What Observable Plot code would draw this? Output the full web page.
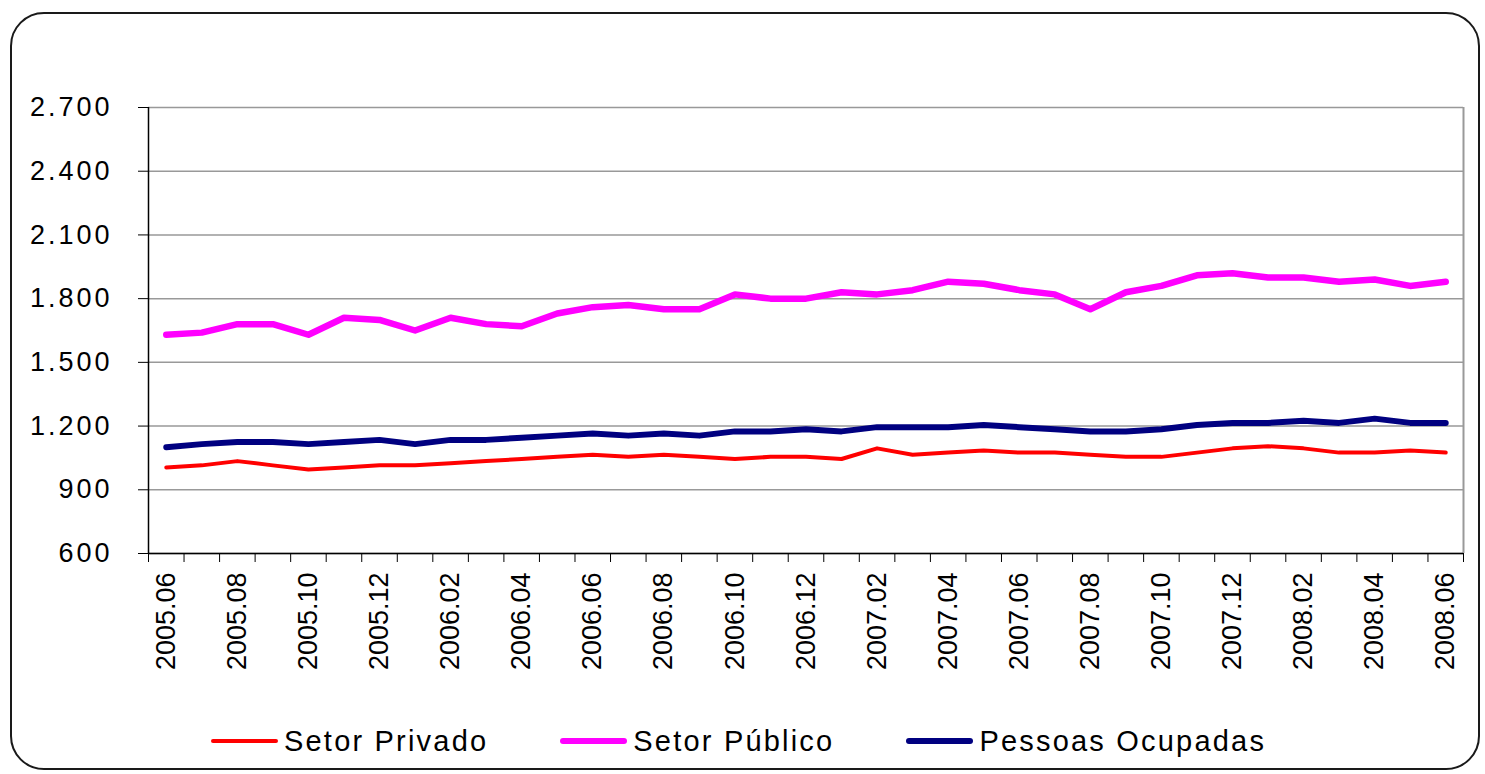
<!DOCTYPE html>
<html>
<head>
<meta charset="utf-8">
<script src="https://cdn.jsdelivr.net/npm/d3@7"></script>
<script src="https://cdn.jsdelivr.net/npm/@observablehq/plot@0.6"></script>
<style>
  html, body { margin: 0; padding: 0; background: #fff; }
  body { width: 1485px; height: 774px; position: relative; overflow: hidden; font-family: "Liberation Sans", Arial, sans-serif; }
  #frame { position: absolute; left: 10px; top: 12px; width: 1466px; height: 754px; border: 2px solid #1a1a1a; border-radius: 34px; pointer-events: none; z-index: 5; }
  #chart svg { display: block; max-width: none; background: transparent; }
  #chart g[aria-label="y-axis tick label"] text { letter-spacing: 3px; }
  #legend { position: absolute; left: 0; top: 704px; width: 1485px; height: 74px; display: flex; align-items: center; padding-left: 211px; box-sizing: border-box; }
  .item { display: flex; align-items: center; margin-right: 72px; }
  .sw { width: 67px; margin-right: 6px; border-radius: 3px; }
  .lab { font-size: 29px; letter-spacing: 2.2px; color: #000; }
</style>
</head>
<body>
<div id="frame"></div>
<div id="chart"></div>
<div id="legend"></div>
<script>
const months = ["2005.06","2005.07","2005.08","2005.09","2005.10","2005.11","2005.12",
  "2006.01","2006.02","2006.03","2006.04","2006.05","2006.06","2006.07","2006.08","2006.09","2006.10","2006.11","2006.12",
  "2007.01","2007.02","2007.03","2007.04","2007.05","2007.06","2007.07","2007.08","2007.09","2007.10","2007.11","2007.12",
  "2008.01","2008.02","2008.03","2008.04","2008.05","2008.06"];
const setorPrivado = [1005,1015,1035,1015,995,1005,1015,1015,1025,1035,1045,1055,1065,1055,1065,1055,1045,1055,1055,1045,1095,1065,1075,1085,1075,1075,1065,1055,1055,1075,1095,1105,1095,1075,1075,1085,1075];
const setorPublico = [1630,1640,1680,1680,1630,1710,1700,1650,1710,1680,1670,1730,1760,1770,1750,1750,1820,1800,1800,1830,1820,1840,1880,1870,1840,1820,1750,1830,1860,1910,1920,1900,1900,1880,1890,1860,1880];
const pessoasOcupadas = [1100,1115,1125,1125,1115,1125,1135,1115,1135,1135,1145,1155,1165,1155,1165,1155,1175,1175,1185,1175,1195,1195,1195,1205,1195,1185,1175,1175,1185,1205,1215,1215,1225,1215,1235,1215,1215];
const yTicks = [600, 900, 1200, 1500, 1800, 2100, 2400, 2700];
const seriesNames = ["Setor Privado", "Setor Público", "Pessoas Ocupadas"];
const seriesColors = ["#ff0000", "#ff00ff", "#000080"];
const seriesWidths = [4, 6.5, 6];

const seriesValues = [setorPrivado, setorPublico, pessoasOcupadas];
const rows = seriesValues.map((vals, s) => vals.map((v, i) => ({i, month: months[i], value: v, series: seriesNames[s]})));
const labelIdx = months.map((m, i) => i).filter(i => i % 2 === 0);
const boundaries = months.map((m, i) => i - 0.5).concat([months.length - 0.5]);
const fmtY = d => d3.format(",")(d).replace(/,/g, ".");

const plot = Plot.plot({
  width: 1485,
  height: 700,
  marginTop: 107,
  marginBottom: 147,
  marginLeft: 148,
  marginRight: 22,
  style: {fontFamily: '"Liberation Sans", Arial, sans-serif', color: "#000", background: "transparent"},
  x: {type: "linear", domain: [-0.5, months.length - 0.5], label: null},
  y: {domain: [600, 2700], label: null},
  marks: [
    Plot.gridY(yTicks, {stroke: "#999", strokeOpacity: 1, strokeWidth: 1.5}),
    Plot.ruleX([months.length - 0.5], {stroke: "#999", strokeWidth: 2}),
    Plot.axisY({ticks: yTicks, tickFormat: fmtY, tickSize: 10, tickPadding: 26, fontSize: 27, stroke: "#000", label: null}),
    Plot.axisX({ticks: boundaries, tickFormat: () => "", tickSize: 9, stroke: "#000", label: null}),
    Plot.axisX({ticks: labelIdx, tickFormat: i => months[i], tickSize: 0, tickPadding: 19, tickRotate: -90, fontSize: 27, label: null}),
    Plot.ruleX([-0.5], {stroke: "#000", strokeWidth: 1.5}),
    Plot.ruleY([600], {stroke: "#000", strokeWidth: 1.5}),
    ...rows.map((r, s) => Plot.lineY(r, {x: "i", y: "value", stroke: seriesColors[s], strokeWidth: seriesWidths[s], strokeLinecap: "round", strokeLinejoin: "round"}))
  ]
});
document.getElementById("chart").appendChild(plot);

const legend = document.getElementById("legend");
seriesNames.forEach((name, s) => {
  const item = document.createElement("div");
  item.className = "item";
  const sw = document.createElement("div");
  sw.className = "sw";
  sw.style.height = seriesWidths[s] + "px";
  sw.style.background = seriesColors[s];
  const lab = document.createElement("span");
  lab.className = "lab";
  lab.textContent = name;
  item.appendChild(sw);
  item.appendChild(lab);
  legend.appendChild(item);
});
</script>
</body>
</html>
